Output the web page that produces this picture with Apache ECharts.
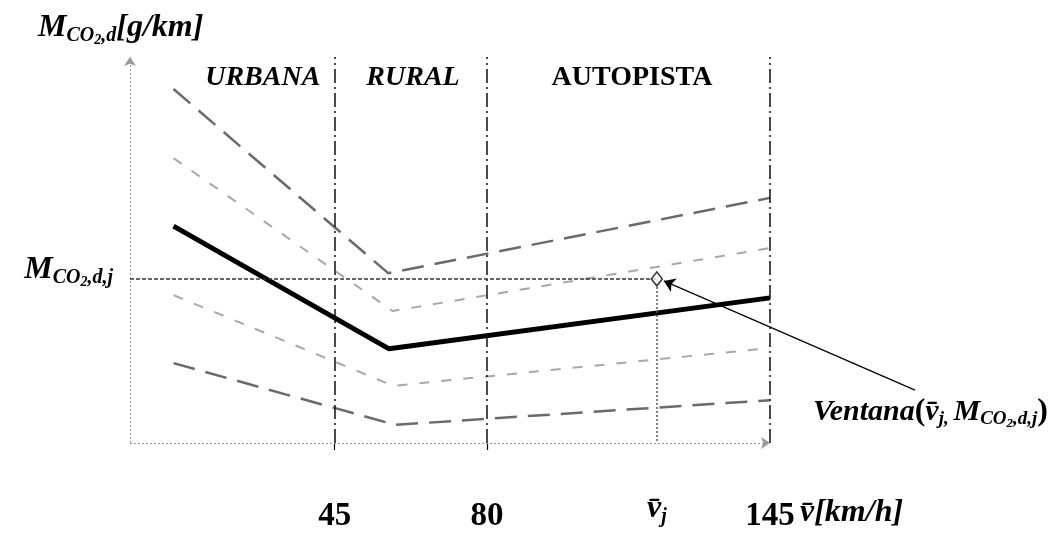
<!DOCTYPE html>
<html><head><meta charset="utf-8">
<script src="https://cdn.jsdelivr.net/npm/echarts@6/dist/echarts.min.js"></script>
<style>html,body{margin:0;padding:0;background:#fff}#c{width:1056px;height:540px}</style>
</head><body><div id="c"></div>
<script>
// ---- data (schematic units) ----
const regionNames = ['URBANA', 'RURAL', 'AUTOPISTA'];
const regionCenters = [28.5, 63, 113.3];
const boundarySpeeds = [45, 80, 145];
const boundaryLabels = ['45', '80', '145'];
const vj = 119;     // v̄j
const mj = 42.5;    // M_CO2,d,j
const upperDashedX = [8, 57.3, 145];
const upperDashedY = [91.7, 44.0, 63.5];
const upperDottedX = [8, 58.3, 145];
const upperDottedY = [73.8, 34.2, 50.5];
const meanX = [8, 57.5, 145];
const meanY = [56.2, 24.4, 37.6];
const lowerDottedX = [8, 58.5, 145];
const lowerDottedY = [38.3, 14.8, 24.6];
const lowerDashedX = [8, 58.9, 145];
const lowerDashedY = [20.7, 4.7, 11.1];
const arrowFrom = [178.3, 13.7];
const arrowTo = [120.6, 42.0];
const xMin = -2, xMax = 200, xAxisEnd = 145, yMin = 0, yMax = 100;

const FONT = '"Liberation Serif", "DejaVu Serif", serif';
const zip = (xs, ys) => xs.map((x, i) => [x, ys[i]]);

// rich styles, zrender naming (graphic)
function zr(size, italic, extra) {
  return Object.assign({ fill: '#000', fontFamily: FONT, fontWeight: 'bold',
    fontStyle: italic ? 'italic' : 'normal', fontSize: size }, extra || {});
}
const richZ = {
  m: zr(32, true, { lineHeight: 38 }),
  p: zr(34, false, { lineHeight: 38 }),
  s: zr(20, true, { padding: [17, 0, 0, 0], verticalAlign: 'top' }),
  ss: zr(14, true, { padding: [24, 0, 0, 0], verticalAlign: 'top' }),
  v: zr(32, true, { lineHeight: 38 })
};
const richV = {
  m: zr(30, true, { lineHeight: 36 }),
  p: zr(32, false, { lineHeight: 36 }),
  s: zr(19, true, { padding: [16, 0, 0, 0], verticalAlign: 'top' }),
  ss: zr(13, true, { padding: [23, 0, 0, 0], verticalAlign: 'top' }),
  v: zr(30, true, { lineHeight: 36 })
};
// rich styles, echarts naming (axis labels)
function ec(size, italic, extra) {
  return Object.assign({ color: '#000', fontFamily: FONT, fontWeight: 'bold',
    fontStyle: italic ? 'italic' : 'normal', fontSize: size }, extra || {});
}
const richE = {
  n: ec(33, false, { lineHeight: 38, padding: [10, 0, 0, 0], verticalAlign: 'top' }),
  m: ec(32, true, { lineHeight: 38 }),
  s: ec(20, true, { padding: [17, 0, 0, 0], verticalAlign: 'top' }),
  ss: ec(14, true, { padding: [24, 0, 0, 0], verticalAlign: 'top' })
};

function lineSeries(name, xs, ys, style, z) {
  return { name, type: 'line', data: zip(xs, ys), symbol: 'none', silent: true, z: z || 2,
    lineStyle: style, emphasis: { disabled: true } };
}
function markerSeries(name, markLine, z) {
  return { name, type: 'line', data: [], silent: true, z: z || 1,
    markLine: Object.assign({ silent: true, animation: false, label: { show: false },
      emphasis: { disabled: true } }, markLine) };
}

const option = {
  animation: false,
  backgroundColor: '#fff',
  grid: { left: 130, top: 57, width: 879.5, height: 386 },
  xAxis: {
    type: 'value', min: xMin, max: xMax,
    axisLine: { show: false }, splitLine: { show: false },
    axisTick: { show: true, customValues: boundarySpeeds.slice(0, 2), length: 7,
      lineStyle: { color: '#000', width: 1.2 } },
    axisLabel: {
      customValues: boundarySpeeds.concat([vj]), margin: 47,
      formatter: v => {
        const i = boundarySpeeds.indexOf(v);
        if (i >= 0) return '{n|' + boundaryLabels[i] + '}';
        return '{m|v\u0304}{s|j}';
      },
      rich: richE
    }
  },
  yAxis: {
    type: 'value', min: yMin, max: yMax,
    axisLine: { show: false }, splitLine: { show: false }, axisTick: { show: false },
    axisLabel: {
      customValues: [mj], margin: 17, padding: [0, 0, 18, 0],
      formatter: () => '{m|M}{s|CO}{ss|2}{s|,d,j}',
      rich: richE
    }
  },
  series: [
    markerSeries('axes', {
      symbol: ['none', 'arrow'], symbolSize: 9,
      lineStyle: { color: '#999', width: 1, type: [2, 2] },
      data: [
        [{ coord: [xMin, 0] }, { coord: [xAxisEnd, 0] }],
        [{ coord: [xMin, 0] }, { coord: [xMin, yMax] }]
      ]
    }, 1),
    markerSeries('boundaries', {
      symbol: 'none',
      lineStyle: { color: '#111', width: 1.5, type: [14, 4, 2, 4] },
      data: boundarySpeeds.map(v => ({ xAxis: v }))
    }, 1),
    markerSeries('guides', {
      symbol: 'none',
      data: [
        [{ coord: [xMin, mj], lineStyle: { color: '#333', width: 1.5, type: [4, 2] } },
         { coord: [vj, mj] }],
        [{ coord: [vj, mj], lineStyle: { color: '#555', width: 1.5, type: [2, 2] } },
         { coord: [vj, 0] }]
      ]
    }, 1),
    lineSeries('upperDashed', upperDashedX, upperDashedY, { color: '#6a6a6a', width: 2.5, type: [22, 11] }),
    lineSeries('upperDotted', upperDottedX, upperDottedY, { color: '#a8a8a8', width: 2, type: [10, 12] }),
    lineSeries('mean', meanX, meanY, { color: '#000', width: 5 }, 3),
    lineSeries('lowerDotted', lowerDottedX, lowerDottedY, { color: '#a8a8a8', width: 2, type: [10, 12] }),
    lineSeries('lowerDashed', lowerDashedX, lowerDashedY, { color: '#6a6a6a', width: 2.5, type: [22, 11] }),
    markerSeries('pointer', {
      symbol: ['none', 'arrow'], symbolSize: 11,
      lineStyle: { color: '#000', width: 1.2, type: 'solid' },
      data: [[{ coord: arrowFrom }, { coord: arrowTo }]]
    }, 4),
    { name: 'ventana', type: 'scatter', data: [[vj, mj]], symbol: 'diamond', symbolSize: [11, 14],
      silent: true, z: 5,
      itemStyle: { color: '#fff', borderColor: '#000', borderWidth: 1.5 } }
  ],
  graphic: [
    { type: 'text', x: 38, y: 9,
      style: { text: '{m|M}{s|CO}{ss|2}{s|,d}{m|[g/km]}', rich: richZ } },
    { type: 'text', x: 800, y: 494,
      style: { text: '{v|v\u0304}{m|[km/h]}', rich: richZ } },
    { type: 'text', x: 813, y: 394,
      style: { text: '{m|Ventana}{p|(}{v|v\u0304}{s|j}{s|, }{m|M}{s|CO}{ss|2}{s|,d,j}{p|)}', rich: richV } }
  ]
};

const chart = echarts.init(document.getElementById('c'), null, { renderer: 'canvas' });
chart.setOption(option);
// region titles positioned through the chart's own x scale
const regionStyles = [true, true, false];
const g = option.graphic.slice();
regionNames.forEach((name, i) => {
  const p = chart.convertToPixel({ gridIndex: 0 }, [regionCenters[i], 95]);
  g.push({ type: 'text', x: p[0], y: 78,
    style: { text: name, align: 'center', verticalAlign: 'middle', fill: '#000',
      font: (regionStyles[i] ? 'italic ' : '') + 'bold 28px ' + FONT } });
});
chart.setOption({ graphic: g });
</script></body></html>
